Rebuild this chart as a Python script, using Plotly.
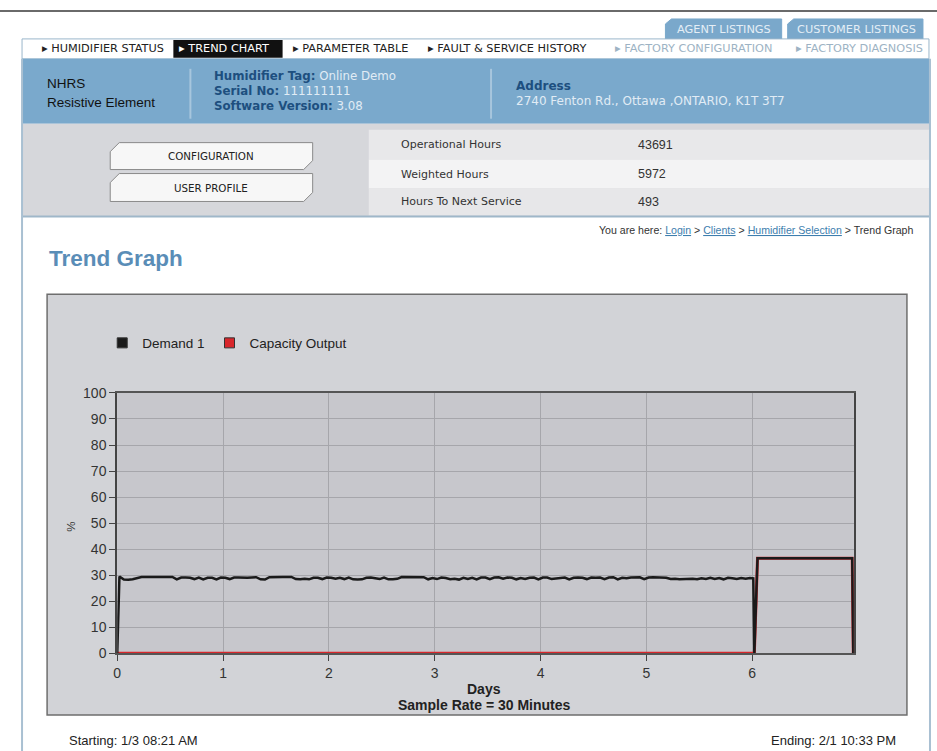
import plotly.graph_objects as go

W, H = 937, 751

# ---------------- data ----------------
demand_day0 = [29.5, 28.3, 28.2, 28.4, 29.0, 29.3, 29.3, 29.3, 29.3, 29.3, 29.3, 29.2,
               29.3, 28.4, 29.1, 29.1, 29.0, 28.5, 29.1, 28.4, 29.0, 29.0, 28.4, 29.1]
demand_day1 = [29.0, 28.5, 29.1, 29.1, 29.0, 29.0, 29.1, 29.2, 28.4, 28.3, 29.2, 29.3,
               29.3, 29.3, 29.3, 29.3, 28.5, 28.4, 28.6, 28.4, 29.0, 29.0, 28.5, 29.1]
demand_day2 = [29.0, 28.6, 29.0, 28.5, 29.1, 28.4, 28.3, 28.4, 29.0, 29.1, 28.8, 28.5,
               29.1, 28.4, 28.4, 28.6, 29.3, 29.3, 29.3, 29.3, 29.3, 29.2, 28.4, 28.9]
demand_day3 = [28.5, 29.1, 28.9, 28.4, 28.6, 28.3, 29.0, 28.5, 29.0, 28.4, 29.1, 29.1,
               28.5, 29.1, 29.2, 28.6, 29.1, 29.0, 28.4, 28.9, 28.5, 29.0, 29.1, 28.4]
demand_day4 = [29.1, 29.1, 28.5, 28.7, 29.0, 29.1, 28.4, 29.0, 29.1, 29.0, 28.5, 29.1,
               29.0, 29.1, 28.5, 29.1, 29.2, 28.4, 29.0, 28.8, 29.1, 29.2, 29.2, 28.5]
demand_day5 = [29.1, 29.2, 29.2, 29.1, 29.0, 28.5, 28.6, 28.4, 28.5, 28.4, 28.6, 28.4,
               28.8, 28.5, 29.0, 28.5, 28.9, 28.4, 29.0, 28.8, 28.5, 28.9, 28.6, 28.9]
demand_start_day = [0.0]
demand_start_val = [0.0]
demand_tail_days = [6.01, 6.02, 6.05, 6.945, 6.955]
demand_tail_vals = [28.8, 0.0, 36.5, 36.5, 0.0]

capacity_days = [0.0, 6.02, 6.05, 6.945, 6.955]
capacity_vals = [0.0, 0.0, 36.5, 36.5, 0.0]

x_tick_vals = [0, 1, 2, 3, 4, 5, 6]
y_tick_vals = [0, 10, 20, 30, 40, 50, 60, 70, 80, 90, 100]

series_names = ["Demand 1", "Capacity Output"]
series_colors = ["#1a1a1a", "#d8262b"]

table_labels = ["Operational Hours", "Weighted Hours", "Hours To Next Service"]
table_values = ["43691", "5972", "493"]

nav_items = ["HUMIDIFIER STATUS", "TREND CHART", "PARAMETER TABLE",
             "FAULT & SERVICE HISTORY", "FACTORY CONFIGURATION", "FACTORY DIAGNOSIS"]

# ---------------- build series ----------------
hourly = demand_day0 + demand_day1 + demand_day2 + demand_day3 + demand_day4 + demand_day5
demand_x = demand_start_day + [(i + 0.5) / 24 for i in range(len(hourly))] + demand_tail_days
demand_y = demand_start_val + hourly + demand_tail_vals

ARIAL = "Liberation Sans"
VERD = "DejaVu Sans"

shapes = []
annotations = []

# page pixel -> paper fraction (calibrated to the rendered page placement)
OX, OY, SX, SY = 4.0, 6.0, 931.0, 737.0


def fx(x):
    return (x - OX) / SX


def fy(y):
    return 1 - (y - OY) / SY


def rect(x0, y0, x1, y1, fill, line=None, lw=0):
    shapes.append(dict(type="rect", xref="paper", yref="paper", layer="below",
                       x0=fx(x0), x1=fx(x1), y0=fy(y1), y1=fy(y0),
                       fillcolor=fill, line=dict(color=line or fill, width=lw)))


def hline(x0, x1, y, color, lw=1):
    shapes.append(dict(type="line", xref="paper", yref="paper", layer="below",
                       x0=fx(x0), x1=fx(x1), y0=fy(y), y1=fy(y),
                       line=dict(color=color, width=lw)))


def vline(x, y0, y1, color, lw=1):
    shapes.append(dict(type="line", xref="paper", yref="paper", layer="below",
                       x0=fx(x), x1=fx(x), y0=fy(y0), y1=fy(y1),
                       line=dict(color=color, width=lw)))


def poly(pts, fill, line, lw=1):
    p = "M " + " L ".join(f"{fx(a):.5f},{fy(b):.5f}" for a, b in pts) + " Z"
    shapes.append(dict(type="path", xref="paper", yref="paper", layer="below", path=p,
                       fillcolor=fill, line=dict(color=line, width=lw)))


def text(x, y, s, size=11, color="#222", family=ARIAL, xanchor="left", yanchor="middle", **kw):
    annotations.append(dict(x=fx(x), y=fy(y), xref="paper", yref="paper", text=s,
                            showarrow=False, xanchor=xanchor, yanchor=yanchor,
                            font=dict(size=size, color=color, family=family), **kw))


# ---------------- page chrome ----------------
hline(0, 940, 9, "#6a6a6a", 2)

# top-right tabs
poly([(664, 38), (664, 22), (670, 17), (780, 17), (780, 38)], "#7aa8cb", "#7aa8cb")
poly([(786, 38), (786, 22), (792, 17), (921, 17), (921, 38)], "#7aa8cb", "#7aa8cb")
text(722, 28, "AGENT LISTINGS", 11.3, "#e4eef6", VERD, "center")
text(855, 28, "CUSTOMER LISTINGS", 11.3, "#e4eef6", VERD, "center")

# nav bar
rect(22, 37, 927, 57, "#ffffff", "#9ab6cb", 1)
rect(173, 38, 282, 56, "#111111")
nav_x = [40, 177, 290, 425, 612, 792]
nav_col = ["#222", "#ffffff", "#222", "#222", "#9db3c4", "#9db3c4"]
for nx, item, col in zip(nav_x, nav_items, nav_col):
    text(nx, 47, "▸ " + item, 11.3, col, VERD)

# blue header
rect(22, 57, 927, 122, "#7aa9cc")
vline(190, 67, 117, "#a7c6dd", 2)
vline(490, 67, 117, "#a7c6dd", 2)
text(45, 82, "NHRS", 13.5, "#111", ARIAL)
text(45, 101, "Resistive Element", 13.5, "#111", ARIAL)
lab = "#1d4f7f"
val = "#e1ecf5"
text(212, 74, f"<b><span style='color:{lab}'>Humidifier Tag:</span></b> Online Demo", 11.8, val, VERD)
text(212, 89, f"<b><span style='color:{lab}'>Serial No:</span></b> 111111111", 11.8, val, VERD)
text(212, 104, f"<b><span style='color:{lab}'>Software Version:</span></b> 3.08", 11.8, val, VERD)
text(513, 84, "<b>Address</b>", 12, lab, VERD)
text(513, 99, "2740 Fenton Rd., Ottawa ,ONTARIO, K1T 3T7", 12, val, VERD)

# gray info panel
rect(22, 122, 927, 215, "#d6d7db")
row_bounds = [(128, 158), (158, 187), (187, 214)]
row_fill = ["#e8e8ea", "#f3f3f4", "#e7e7e9"]
for (r0, r1), fill, lbl, v in zip(row_bounds, row_fill, table_labels, table_values):
    rect(368, r0, 927, r1, fill)
    text(398, (r0 + r1) / 2, lbl, 11, "#333", VERD)
    text(635, (r0 + r1) / 2, v, 12.5, "#333", ARIAL)
hline(22, 927, 215, "#9fb7c9", 2)

# buttons
for (b0, b1, lbl) in [(141, 168, "CONFIGURATION"), (172, 200, "USER PROFILE")]:
    poly([(110, b0 + 9), (119, b0), (312, b0), (312, b1 - 9), (303, b1), (110, b1)],
         "#f7f7f7", "#8a8a8a", 1)
    text(211, (b0 + b1) / 2, lbl, 10.3, "#222", VERD, "center")

# container side lines
vline(22, 57, 760, "#a9c0d2", 2)
vline(928, 57, 760, "#a9c0d2", 2)

# breadcrumb and title
link = "#3d7eae"
text(914, 229,
     f"You are here: <span style='color:{link}'><u>Login</u></span> &gt; "
     f"<span style='color:{link}'><u>Clients</u></span> &gt; "
     f"<span style='color:{link}'><u>Humidifier Selection</u></span> &gt; Trend Graph",
     10.6, "#333", ARIAL, "right")
text(47, 257, "<b>Trend Graph</b>", 22.5, "#5a8db7", ARIAL)

# chart panel
rect(47, 293, 905, 715, "#d2d3d7", "#6e6e6e", 1.5)
shapes.append(dict(type="rect", xref="x domain", yref="y domain", layer="below",
                   x0=0, x1=1, y0=0, y1=1, fillcolor="#c7c7cc", line=dict(width=0)))

text(70, 526, "%", 11.5, "#333", ARIAL, "center", textangle=-90)
text(483, 689, "<b>Days</b>", 14, "#222", ARIAL, "center")
text(483, 705, "<b>Sample Rate = 30 Minutes</b>", 14, "#222", ARIAL, "center")
text(67, 740, "Starting: 1/3 08:21 AM", 13, "#222", ARIAL)
text(896, 740, "Ending: 2/1 10:33 PM", 13, "#222", ARIAL, "right")

# ---------------- traces ----------------
fig = go.Figure()
fig.add_trace(go.Scatter(x=capacity_days, y=capacity_vals, mode="lines",
                         line=dict(color=series_colors[1], width=3), showlegend=False,
                         name=series_names[1]))
fig.add_trace(go.Scatter(x=demand_x, y=demand_y, mode="lines",
                         line=dict(color=series_colors[0], width=2.5), showlegend=False,
                         name=series_names[0]))
for nm, col in zip(series_names, series_colors):
    fig.add_trace(go.Scatter(x=[None], y=[None], mode="markers", name=nm,
                             marker=dict(symbol="square", size=10, color=col,
                                         line=dict(color="#333", width=1))))

fig.update_layout(
    width=W, height=H, autosize=False,
    margin=dict(l=0, r=0, t=0, b=0),
    paper_bgcolor="#ffffff", plot_bgcolor="rgba(0,0,0,0)",
    shapes=shapes, annotations=annotations,
    showlegend=True,
    legend=dict(orientation="h", x=fx(102), y=fy(342), xanchor="left", yanchor="middle",
                bgcolor="rgba(0,0,0,0)", font=dict(size=13.5, color="#222", family=ARIAL),
                itemclick=False),
    xaxis=dict(domain=[fx(117), fx(852)], range=[0, 6.96], tickvals=x_tick_vals,
               showgrid=True, gridcolor="#a6a6ab", gridwidth=1, zeroline=False,
               showline=True, linecolor="#555", linewidth=1.5, mirror=True,
               ticks="outside", ticklen=6, tickcolor="#444",
               tickfont=dict(size=14, color="#333", family=ARIAL), fixedrange=True),
    yaxis=dict(domain=[fy(653), fy(392)], range=[0, 100], tickvals=y_tick_vals,
               showgrid=True, gridcolor="#a6a6ab", gridwidth=1, zeroline=False,
               showline=True, linecolor="#444", linewidth=2, mirror=True,
               ticks="outside", ticklen=6, tickcolor="#444",
               tickfont=dict(size=14, color="#333", family=ARIAL), fixedrange=True),
)

fig.write_html("out.html", config={"displayModeBar": False},
               post_script="document.body.style.margin='0px';"
                           "document.documentElement.style.overflow='hidden';")
